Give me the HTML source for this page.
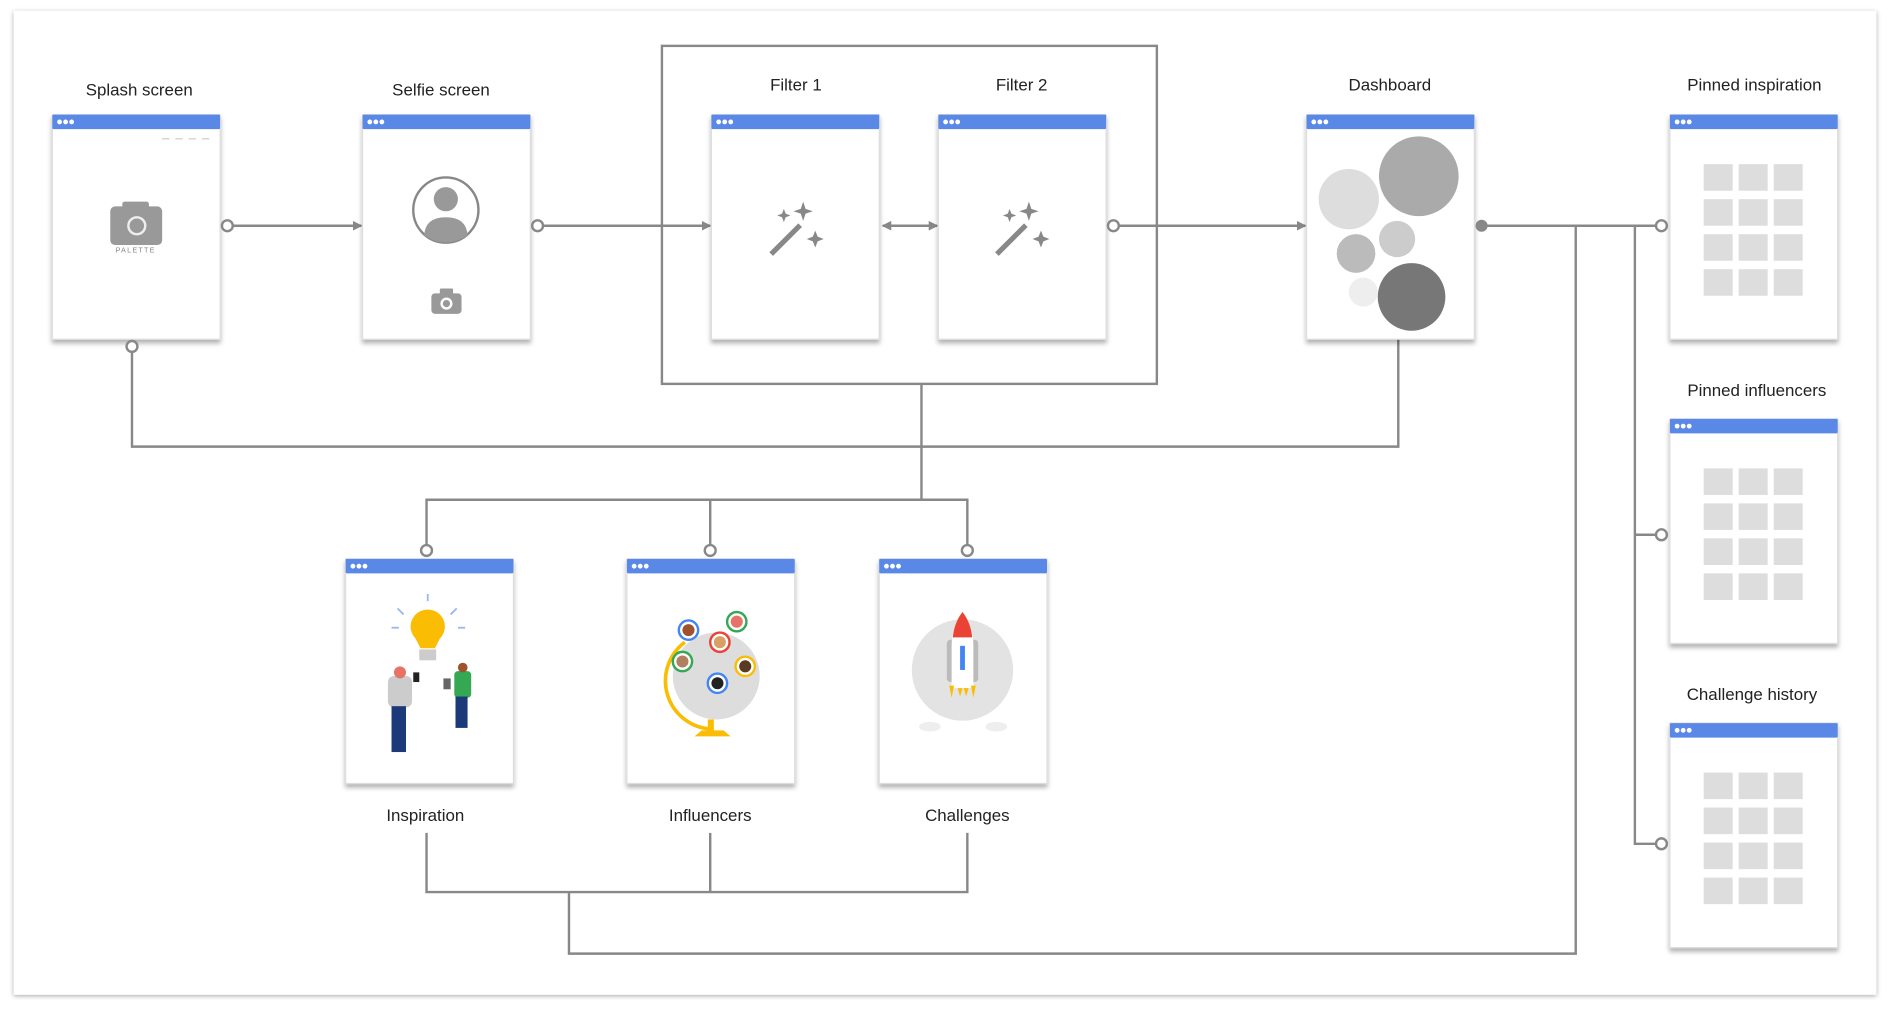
<!DOCTYPE html>
<html><head><meta charset="utf-8"><style>
html,body{margin:0;padding:0;background:#fff;}
svg{display:block;font-family:"Liberation Sans",sans-serif;}
</style></head><body>
<svg width="1890" height="1014" viewBox="0 0 1565 840" xmlns="http://www.w3.org/2000/svg">
<defs>
<filter id="sh" x="-10%" y="-10%" width="120%" height="130%"><feDropShadow dx="0" dy="3" stdDeviation="2" flood-color="#000" flood-opacity="0.3"/></filter>
<filter id="fs" x="-5%" y="-5%" width="110%" height="110%"><feDropShadow dx="0" dy="1" stdDeviation="2" flood-color="#000" flood-opacity="0.35"/></filter>
<marker id="ar" markerWidth="8" markerHeight="8" refX="7" refY="4" orient="auto" markerUnits="userSpaceOnUse"><path d="M0,0 L8,4 L0,8 z" fill="#888"/></marker>
<marker id="al" markerWidth="8" markerHeight="8" refX="1" refY="4" orient="auto" markerUnits="userSpaceOnUse"><path d="M8,0 L0,4 L8,8 z" fill="#888"/></marker>
<g id="scr">
<rect x="0" y="0" width="139" height="186" fill="#fff" stroke="#ddd" stroke-width="1" filter="url(#sh)"/>
<rect x="0" y="0" width="139" height="12" fill="#5a88e6" rx="1"/>
<circle cx="6" cy="6" r="2" fill="#fff"/><circle cx="11" cy="6" r="2" fill="#fff"/><circle cx="16" cy="6" r="2" fill="#fff"/>
</g>
<g id="grid" fill="#ddd">
<rect x="0" y="0" width="24" height="22"/><rect x="29" y="0" width="24" height="22"/><rect x="58" y="0" width="24" height="22"/>
<rect x="0" y="29" width="24" height="22"/><rect x="29" y="29" width="24" height="22"/><rect x="58" y="29" width="24" height="22"/>
<rect x="0" y="58" width="24" height="22"/><rect x="29" y="58" width="24" height="22"/><rect x="58" y="58" width="24" height="22"/>
<rect x="0" y="87" width="24" height="22"/><rect x="29" y="87" width="24" height="22"/><rect x="58" y="87" width="24" height="22"/>
</g>
<g id="wand" fill="#888">
<path d="M-18,22 L6,-2 L9,1 L-15,25 z"/>
<path d="M10,-20 l2,6 6,2 -6,2 -2,6 -2,-6 -6,-2 6,-2z"/>
<path d="M20,4 l2,5 5,2 -5,2 -2,5 -2,-5 -5,-2 5,-2z"/>
<path d="M-6,-14 l1.5,4 4,1.5 -4,1.5 -1.5,4 -1.5,-4 -4,-1.5 4,-1.5z"/>
</g>
</defs>
<rect x="11" y="9" width="1543" height="815" fill="#fff" filter="url(#fs)"/>

<!-- group box -->
<rect x="548" y="38" width="410" height="280" fill="none" stroke="#888" stroke-width="2"/>

<!-- connectors -->
<g stroke="#888" stroke-width="2" fill="none">
<line x1="192" y1="187" x2="299" y2="187" marker-end="url(#ar)"/>
<line x1="449" y1="187" x2="588" y2="187" marker-end="url(#ar)"/>
<line x1="731" y1="187" x2="776" y2="187" marker-start="url(#al)" marker-end="url(#ar)"/>
<line x1="926" y1="187" x2="1081" y2="187" marker-end="url(#ar)"/>
<line x1="1227" y1="187" x2="1372" y2="187"/>
<polyline points="1354,187 1354,699 1372,699"/>
<line x1="1354" y1="443" x2="1372" y2="443"/>
<polyline points="1305,187 1305,790 471,790 471,739"/>
<polyline points="353,690 353,739 801,739 801,690"/>
<line x1="588" y1="690" x2="588" y2="739"/>
<polyline points="109,291 109,370 1158,370 1158,281"/>
<line x1="763" y1="318" x2="763" y2="414"/>
<polyline points="353,452 353,414 801,414 801,452"/>
<line x1="588" y1="414" x2="588" y2="452"/>
</g>

<!-- screens -->
<use href="#scr" x="43" y="95"/>
<use href="#scr" x="300" y="95"/>
<use href="#scr" x="589" y="95"/>
<use href="#scr" x="777" y="95"/>
<use href="#scr" x="1082" y="95"/>
<use href="#scr" x="1383" y="95"/>
<use href="#scr" x="1383" y="347"/>
<use href="#scr" x="1383" y="599"/>
<use href="#scr" x="286" y="463"/>
<use href="#scr" x="519" y="463"/>
<use href="#scr" x="728" y="463"/>

<!-- connector endpoints -->
<g fill="#fff" stroke="#888" stroke-width="2">
<circle cx="188" cy="187" r="4.5"/><circle cx="445" cy="187" r="4.5"/><circle cx="922" cy="187" r="4.5"/>
<circle cx="1376" cy="187" r="4.5"/><circle cx="1376" cy="443" r="4.5"/><circle cx="1376" cy="699" r="4.5"/>
<circle cx="109" cy="287" r="4.5"/>
<circle cx="353" cy="456" r="4.5"/><circle cx="588" cy="456" r="4.5"/><circle cx="801" cy="456" r="4.5"/>
</g>
<circle cx="1227" cy="187" r="5" fill="#888"/>

<!-- labels -->
<g font-size="14" fill="#222" text-anchor="middle">
<text x="115" y="79">Splash screen</text>
<text x="365" y="79">Selfie screen</text>
<text x="659" y="75">Filter 1</text>
<text x="846" y="75">Filter 2</text>
<text x="1151" y="75">Dashboard</text>
<text x="1453" y="75">Pinned inspiration</text>
<text x="1455" y="328">Pinned influencers</text>
<text x="1451" y="580">Challenge history</text>
<text x="352" y="680">Inspiration</text>
<text x="588" y="680">Influencers</text>
<text x="801" y="680">Challenges</text>
</g>

<!-- splash content -->
<g stroke="#ccc" stroke-width="1"><line x1="134" y1="115" x2="140" y2="115"/><line x1="145" y1="115" x2="151" y2="115"/><line x1="156" y1="115" x2="162" y2="115"/><line x1="167" y1="115" x2="173" y2="115"/></g>
<rect x="91" y="171" width="43" height="32" rx="4" fill="#999"/>
<rect x="101" y="167" width="22" height="6" rx="2" fill="#999"/>
<circle cx="113" cy="187" r="7" fill="none" stroke="#eee" stroke-width="2"/>
<text x="112" y="209" font-size="6" fill="#888" text-anchor="middle" letter-spacing="1">PALETTE</text>

<!-- selfie content -->
<circle cx="369" cy="174" r="27" fill="none" stroke="#888" stroke-width="2"/>
<circle cx="369" cy="165" r="10" fill="#999"/>
<path d="M351,195 Q352,180 369,180 Q386,180 387,195 Q378,201 369,201 Q360,201 351,195z" fill="#999"/>
<rect x="357" y="243" width="25" height="17" rx="3" fill="#999"/>
<rect x="364" y="239" width="11" height="5" rx="1" fill="#999"/>
<circle cx="369.5" cy="251.5" r="4" fill="none" stroke="#fff" stroke-width="2"/>

<!-- filters -->
<use href="#wand" x="655" y="187"/>
<use href="#wand" x="842" y="187"/>

<!-- dashboard -->
<circle cx="1175" cy="146" r="33" fill="#aaa"/>
<circle cx="1117" cy="165" r="25" fill="#ddd"/>
<circle cx="1157" cy="198" r="15" fill="#ccc"/>
<circle cx="1123" cy="210" r="16" fill="#bbb"/>
<circle cx="1129" cy="242" r="12" fill="#eee"/>
<circle cx="1169" cy="246" r="28" fill="#777"/>

<!-- grids -->
<use href="#grid" x="1411" y="136"/>
<use href="#grid" x="1411" y="388"/>
<use href="#grid" x="1411" y="640"/>

<!-- inspiration illustration -->
<g>
<line x1="354" y1="492" x2="354" y2="498" stroke="#9bb6f0" stroke-width="1.5"/>
<line x1="329" y1="504" x2="334" y2="509" stroke="#9bb6f0" stroke-width="1.5"/>
<line x1="378" y1="504" x2="373" y2="509" stroke="#9bb6f0" stroke-width="1.5"/>
<line x1="324" y1="520" x2="330" y2="520" stroke="#9bb6f0" stroke-width="1.5"/>
<line x1="379" y1="520" x2="385" y2="520" stroke="#9bb6f0" stroke-width="1.5"/>
<path d="M354,505 a14,14 0 0 1 10,24 l-4,8 h-12 l-4,-8 a14,14 0 0 1 10,-24z" fill="#fbbc04"/>
<rect x="347" y="538" width="14" height="9" fill="#ccc"/>
<rect x="321" y="560" width="20" height="26" rx="5" fill="#ccc"/>
<circle cx="331" cy="557" r="5" fill="#e57368"/>
<rect x="324" y="585" width="12" height="38" fill="#1c3a7a"/>
<rect x="342" y="557" width="5" height="8" fill="#222"/>
<rect x="376" y="556" width="14" height="22" rx="3" fill="#34a853"/>
<circle cx="383" cy="553" r="4" fill="#a0522d"/>
<rect x="377" y="577" width="10" height="26" fill="#1c3a7a"/>
<rect x="367" y="562" width="6" height="9" fill="#666"/>
</g>

<!-- influencers globe -->
<g>
<circle cx="593" cy="560" r="36" fill="#ddd"/>
<path d="M567,532 a40,40 0 0 0 22,72" fill="none" stroke="#fbbc04" stroke-width="3"/>
<rect x="586" y="596" width="5" height="10" fill="#fbbc04"/>
<path d="M575,610 h30 l-6,-5 h-18z" fill="#fbbc04"/>
<circle cx="570" cy="522" r="8" fill="#fff" stroke="#4285f4" stroke-width="2"/><circle cx="570" cy="522" r="5" fill="#a0522d"/>
<circle cx="610" cy="515" r="8" fill="#fff" stroke="#34a853" stroke-width="2"/><circle cx="610" cy="515" r="5" fill="#e57368"/>
<circle cx="596" cy="532" r="8" fill="#fff" stroke="#ea4335" stroke-width="2"/><circle cx="596" cy="532" r="5" fill="#d9a066"/>
<circle cx="565" cy="548" r="8" fill="#fff" stroke="#34a853" stroke-width="2"/><circle cx="565" cy="548" r="5" fill="#b08060"/>
<circle cx="617" cy="552" r="8" fill="#fff" stroke="#fbbc04" stroke-width="2"/><circle cx="617" cy="552" r="5" fill="#5a3a20"/>
<circle cx="594" cy="566" r="8" fill="#fff" stroke="#4285f4" stroke-width="2"/><circle cx="594" cy="566" r="5" fill="#222"/>
</g>

<!-- challenges rocket -->
<g>
<circle cx="797" cy="555" r="42" fill="#e3e3e3"/>
<rect x="784" y="530" width="8" height="35" rx="3" fill="#bbb"/>
<rect x="802" y="530" width="8" height="35" rx="3" fill="#bbb"/>
<path d="M797,507 q9,12 9,28 v35 h-18 v-35 q0,-16 9,-28z" fill="#fff"/>
<path d="M797,507 q7,9 8,21 h-16 q1,-12 8,-21z" fill="#ea4335"/>
<rect x="795" y="535" width="4" height="20" fill="#4285f4"/>
<path d="M786,568 l2,10 2,-10z M804,568 l2,10 2,-10z M793,570 l2,7 2,-7z M798,570 l2,7 2,-7z" fill="#fbbc04"/>
<ellipse cx="770" cy="602" rx="9" ry="4" fill="#eee"/>
<ellipse cx="825" cy="602" rx="9" ry="4" fill="#eee"/>
</g>
</svg>
</body></html>
